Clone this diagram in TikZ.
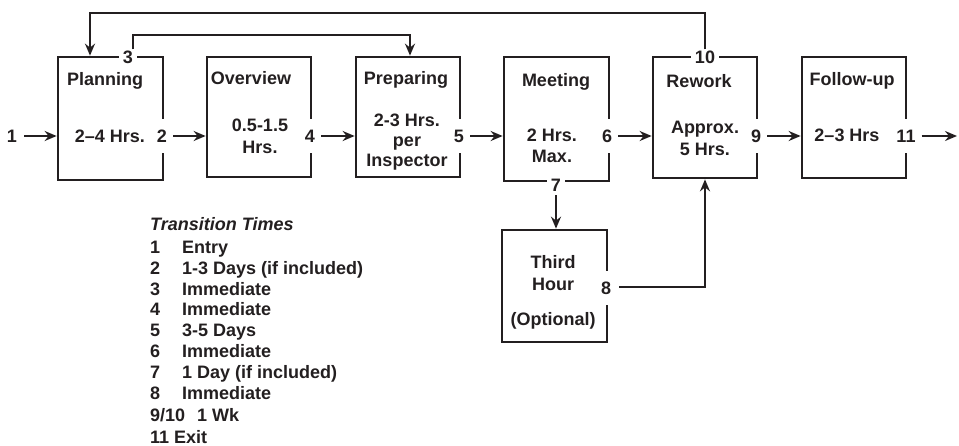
\documentclass[tikz,border=0pt]{standalone}
\usepackage{fontspec}
\setmainfont{Liberation Sans}
\usetikzlibrary{arrows.meta}
\definecolor{ink}{RGB}{35,31,32}
\begin{document}
\begin{tikzpicture}[x=1pt,y=-1pt,
  font=\fontsize{18}{21}\selectfont\bfseries,
  every node/.style={text=ink},
  stage/.style={draw=ink, line width=2.7pt, rectangle, inner sep=0pt},
  txt/.style={anchor=base, inner sep=0pt},
  sidenum/.style={fill=white, inner xsep=3pt, inner ysep=11pt},
  topnum/.style={fill=white, inner xsep=4pt, inner ysep=1pt},
  flow/.style={draw=ink, line width=2pt, shorten <=3pt,
    -{Stealth[length=12pt,width=10pt,inset=4pt]}},
  leg/.style={anchor=base west, inner sep=0pt}]

\useasboundingbox (0,0) rectangle (959,445);

% process stages
\node[stage, minimum width=105pt, minimum height=123pt] (plan)  at (110.5,118.5) {};
\node[stage, minimum width=104pt, minimum height=120pt] (over)  at (259,117) {};
\node[stage, minimum width=104pt, minimum height=120pt] (prep)  at (408,117) {};
\node[stage, minimum width=105pt, minimum height=124pt] (meet)  at (556.5,119) {};
\node[stage, minimum width=104pt, minimum height=121pt] (rew)   at (705,117.5) {};
\node[stage, minimum width=104pt, minimum height=121pt] (fol)   at (854,117.5) {};
\node[stage, minimum width=105pt, minimum height=112pt] (third) at (554.5,286) {};

% stage titles and durations
\node[txt] (plan-t) at (105,85) {Planning};
\node[txt] (plan-b) at (110,142.5) {2--4 Hrs.};
\node[txt] (over-t) at (251,84) {Overview};
\node[txt] (over-b1) at (260,131.5) {0.5-1.5};
\node[txt] (over-b2) at (260,153) {Hrs.};
\node[txt] (prep-t) at (406,84) {Preparing};
\node[txt] (prep-b1) at (407,126) {2-3 Hrs.};
\node[txt] (prep-b2) at (407,146) {per};
\node[txt] (prep-b3) at (407,166) {Inspector};
\node[txt] (meet-t) at (556,86) {Meeting};
\node[txt] (meet-b1) at (552,141.5) {2 Hrs.};
\node[txt] (meet-b2) at (552,162) {Max.};
\node[txt] (rew-t) at (699,87) {Rework};
\node[txt] (rew-b1) at (705,133) {Approx.};
\node[txt] (rew-b2) at (705,155.5) {5 Hrs.};
\node[txt] (fol-t) at (852,85) {Follow-up};
\node[txt] (fol-b) at (847,141.5) {2--3 Hrs};
\node[txt] (third-b1) at (553,268) {Third};
\node[txt] (third-b2) at (553,290) {Hour};
\node[txt] (third-b3) at (553,325) {(Optional)};

% transition numbers
\node[inner xsep=4pt] (n1) at (12,136) {1};
\node[sidenum] (n2)  at (162,136) {2};
\node[sidenum] (n4)  at (310,136) {4};
\node[sidenum] (n5)  at (459,136) {5};
\node[sidenum] (n6)  at (607,136) {6};
\node[sidenum] (n9)  at (756,136) {9};
\node[sidenum] (n11) at (906,136) {11};
\node[sidenum] (n8)  at (606,288) {8};
\node[topnum] (n3)  at (128,57) {3};
\node[topnum] (n10) at (705,57) {10};
\node[topnum] (n7)  at (556,185) {7};

\coordinate (exit) at (957,136);
\coordinate (t3) at (133,35);
\coordinate (t10) at (90,13);

% forward flow
\draw[flow] (n1.east) -- (plan.west |- n1);
\draw[flow] (n2.east) -- (over.west |- n2);
\draw[flow] (n4.east) -- (prep.west |- n4);
\draw[flow] (n5.east) -- (meet.west |- n5);
\draw[flow] (n6.east) -- (rew.west |- n6);
\draw[flow] (n9.east) -- (fol.west |- n9);
\draw[flow, shorten >=0pt] (n11.east) -- (exit);
\draw[flow] (n7.south) -- (n7.south |- third.north);
\draw[flow, shorten <=5pt] (n8.east |- 0,287) -| (rew.south);

% feedback loops over the top
\draw[flow, shorten <=0pt] (n3.north -| t3) -- (t3) -| ([xshift=2pt]prep.north);
\draw[flow, shorten <=0pt] (n10.north) |- (t10) -- (t10 |- plan.north);

% legend
\node[leg, font=\fontsize{18}{21}\selectfont\bfseries\itshape] (leg-h) at (150,230.5) {Transition Times};
\foreach \n/\t [count=\i] in {1/Entry, 2/1-3 Days (if included), 3/Immediate,
    4/Immediate, 5/3-5 Days, 6/Immediate, 7/1 Day (if included), 8/Immediate} {
  \node[leg] (leg-n\i) at (150,232.3+20.9*\i) {\n};
  \node[leg] (leg-t\i) at (182,232.3+20.9*\i) {\t};
}
\node[leg] (leg-n9) at (150,421.7) {9/10};
\node[leg] (leg-t9) at (197,421.7) {1 Wk};
\node[leg] (leg-n10) at (150,443) {11 Exit};
\end{tikzpicture}
\end{document}
